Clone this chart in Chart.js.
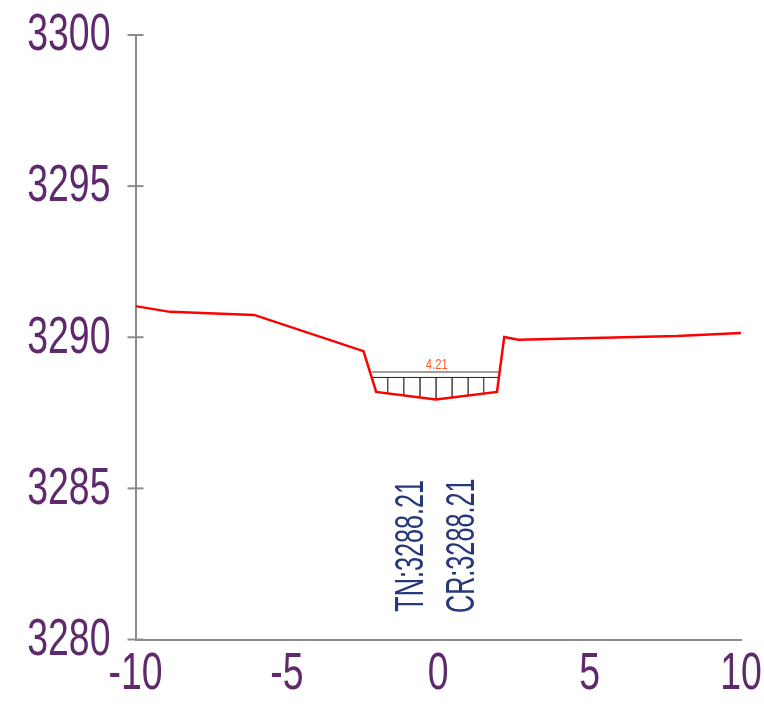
<!DOCTYPE html>
<html>
<head>
<meta charset="utf-8">
<script src="https://cdn.jsdelivr.net/npm/chart.js@4.4.0/dist/chart.umd.min.js"></script>
<style>
  html, body { margin: 0; padding: 0; background: #fff; }
  #wrap { width: 764px; height: 706px; }
</style>
</head>
<body>
<div id="wrap"><canvas id="myChart" width="764" height="706"></canvas></div>
<script>
// ground profile (offset m, elevation m)
const groundX = [-10, -8.86, -6.08, -2.47, -2.05, -0.08, 1.94, 2.18, 2.65, 7.89, 10];
const groundY = [3291.03, 3290.84, 3290.74, 3289.54, 3288.19, 3287.94, 3288.19, 3290.01, 3289.92, 3290.04, 3290.14];

// water surface in the channel
const waterX = [-2.19, 2.02];
const waterLevel = 3288.85;
const fillLevel = 3288.67;
const hatchX = [-2.19, -1.67, -1.14, -0.60, -0.07, 0.46, 0.99, 1.50, 2.02];

const xTicks = [-10, -5, 0, 5, 10];
const yTicks = [3280, 3285, 3290, 3295, 3300];

const widthLabel = '4.21';
const tnLabel = 'TN:3288.21';
const crLabel = 'CR:3288.21';

const tickColor = '#5e2a6c';
const axisColor = '#8c8c8c';
const sans = '"Liberation Sans", Arial, sans-serif';

function bedAt(x) {
    for (let i = 0; i < groundX.length - 1; i++) {
        if (x >= groundX[i] && x <= groundX[i + 1]) {
            const t = (x - groundX[i]) / (groundX[i + 1] - groundX[i]);
            return groundY[i] + t * (groundY[i + 1] - groundY[i]);
        }
    }
    return fillLevel;
}

const datasets = [
    {
        data: groundX.map((x, i) => ({x: x, y: groundY[i]})),
        borderColor: '#ff0000',
        borderWidth: 2.5,
        order: 0
    },
    {
        data: waterX.map(x => ({x: x, y: waterLevel})),
        borderColor: '#a0a0a0',
        borderWidth: 2,
        order: 2
    },
    {
        data: waterX.map(x => ({x: x, y: fillLevel})),
        borderColor: '#222',
        borderWidth: 1,
        order: 2
    }
];
hatchX.forEach(x => {
    datasets.push({
        data: [{x: x, y: fillLevel}, {x: x, y: Math.min(bedAt(x), fillLevel)}],
        borderColor: '#555',
        borderWidth: 1,
        order: 3
    });
});

// condensed text: draw with a horizontal squeeze
function squeezed(ctx, txt, x, y, sx, rot) {
    ctx.save();
    ctx.translate(x, y);
    if (rot) ctx.rotate(rot);
    ctx.scale(sx, 1);
    ctx.fillText(txt, 0, 0);
    ctx.restore();
}

const extras = {
    id: 'extras',
    afterDraw(chart) {
        const ctx = chart.ctx;
        const xs = chart.scales.x, ys = chart.scales.y;
        const left = chart.chartArea.left;
        const bottom = chart.chartArea.bottom;
        ctx.save();
        // crossing tick marks on the y axis
        ctx.strokeStyle = axisColor;
        ctx.lineWidth = 2;
        ys.ticks.forEach(t => {
            const py = ys.getPixelForValue(t.value);
            ctx.beginPath();
            ctx.moveTo(left - 8, py);
            ctx.lineTo(left + 8, py);
            ctx.stroke();
        });
        // tick labels
        ctx.fillStyle = tickColor;
        ctx.font = '52px ' + sans;
        ctx.textBaseline = 'middle';
        ctx.textAlign = 'right';
        ys.ticks.forEach(t => {
            squeezed(ctx, String(t.value), left - 25, ys.getPixelForValue(t.value) + 1, 0.72);
        });
        ctx.textAlign = 'center';
        xs.ticks.forEach(t => {
            squeezed(ctx, String(t.value), xs.getPixelForValue(t.value), bottom + 35, 0.72);
        });
        // channel width label
        ctx.fillStyle = '#ff5a24';
        ctx.font = '15px ' + sans;
        squeezed(ctx, widthLabel, xs.getPixelForValue(-0.05), ys.getPixelForValue(3289.1), 0.75);
        // vertical level labels
        ctx.fillStyle = '#27387a';
        ctx.font = '40px ' + sans;
        squeezed(ctx, tnLabel, xs.getPixelForValue(-0.86), ys.getPixelForValue(3283.1), 0.63, -Math.PI / 2);
        squeezed(ctx, crLabel, xs.getPixelForValue(0.83), ys.getPixelForValue(3283.1), 0.63, -Math.PI / 2);
        ctx.restore();
    }
};

new Chart(document.getElementById('myChart'), {
    type: 'scatter',
    data: {datasets: datasets},
    options: {
        responsive: false,
        animation: false,
        showLine: true,
        elements: {point: {radius: 0}, line: {tension: 0}},
        layout: {padding: {top: 35, right: 23, left: 0, bottom: 0}},
        plugins: {legend: {display: false}, tooltip: {enabled: false}},
        scales: {
            x: {
                type: 'linear',
                min: -10,
                max: 10,
                afterBuildTicks: s => { s.ticks = xTicks.map(v => ({value: v})); },
                afterFit: s => { s.height = 66.5; },
                grid: {display: false, drawTicks: false},
                border: {display: true, color: axisColor, width: 2},
                ticks: {display: false}
            },
            y: {
                type: 'linear',
                min: 3280,
                max: 3300,
                afterBuildTicks: s => { s.ticks = yTicks.map(v => ({value: v})); },
                afterFit: s => { s.width = 135.5; },
                grid: {display: false, drawTicks: false},
                border: {display: true, color: axisColor, width: 2},
                ticks: {display: false}
            }
        }
    },
    plugins: [extras]
});
</script>
</body>
</html>
